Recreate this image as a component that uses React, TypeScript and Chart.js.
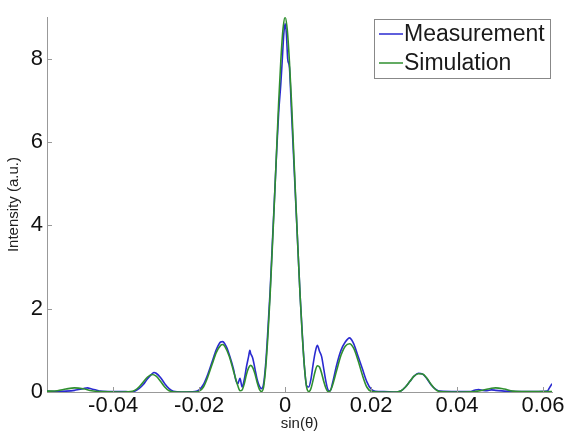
import React, { useEffect, useRef } from "react";
import { Chart, registerables } from "chart.js";
Chart.register(...registerables);

const seriesLabels = ["Measurement", "Simulation"];
const seriesColors = ["#2a2ad0", "#2f8f2f"];

const simX = [
  -0.0554, -0.053, -0.051, -0.049, -0.047, -0.045, -0.043, -0.039, -0.036, -0.035,
  -0.034, -0.033, -0.032, -0.031, -0.03, -0.029, -0.028, -0.027, -0.025, -0.021,
  -0.02, -0.019, -0.018, -0.017, -0.016, -0.015, -0.0145, -0.014, -0.013, -0.012,
  -0.011, -0.0105, -0.01, -0.0095, -0.009, -0.0085, -0.008, -0.0075, -0.007, -0.0065,
  -0.006, -0.0055, -0.005, -0.0045, -0.004, -0.0035, -0.003, -0.0025, -0.002, -0.0015,
  -0.001, -0.0005, 0, 0.0005, 0.001, 0.0015, 0.002, 0.0025, 0.003, 0.0035,
  0.004, 0.0045, 0.005, 0.0055, 0.006, 0.0065, 0.007, 0.0075, 0.008, 0.0085,
  0.009, 0.0095, 0.01, 0.0105, 0.011, 0.012, 0.013, 0.014, 0.015, 0.016,
  0.017, 0.018, 0.019, 0.02, 0.022, 0.026, 0.027, 0.028, 0.029, 0.03,
  0.031, 0.032, 0.033, 0.034, 0.035, 0.036, 0.04, 0.044, 0.046, 0.048,
  0.049, 0.051, 0.053, 0.056, 0.0621,
];
const simY = [
  0.02, 0.03, 0.07, 0.1, 0.08, 0.03, 0.01, 0.0, 0.01, 0.04,
  0.12, 0.24, 0.36, 0.42, 0.38, 0.26, 0.12, 0.03, 0.0, 0.0,
  0.02, 0.12, 0.36, 0.66, 0.95, 1.12, 1.14, 1.09, 0.86, 0.5,
  0.15, 0.03, 0.05, 0.2, 0.42, 0.58, 0.64, 0.58, 0.43, 0.23,
  0.07, 0.01, 0.12, 0.6, 1.35, 2.3, 3.4, 4.55, 5.75, 6.95,
  7.95, 8.7, 9.0, 8.7, 7.95, 6.95, 5.75, 4.55, 3.4, 2.3,
  1.35, 0.6, 0.12, 0.01, 0.08, 0.28, 0.5, 0.63, 0.6, 0.45,
  0.25, 0.09, 0.01, 0.03, 0.15, 0.52, 0.88, 1.1, 1.16, 1.04,
  0.75, 0.4, 0.12, 0.02, 0.0, 0.0, 0.03, 0.12, 0.25, 0.38,
  0.44, 0.43, 0.33, 0.18, 0.06, 0.01, 0.0, 0.01, 0.04, 0.09,
  0.1, 0.07, 0.02, 0.01, 0.01,
];

const measX = [
  -0.0554, -0.053, -0.051, -0.049, -0.048, -0.047, -0.046, -0.045, -0.044, -0.043,
  -0.04, -0.037, -0.036, -0.035, -0.034, -0.033, -0.032, -0.031, -0.0305, -0.03,
  -0.029, -0.028, -0.027, -0.026, -0.024, -0.021, -0.02, -0.019, -0.018, -0.017,
  -0.016, -0.015, -0.0145, -0.014, -0.0135, -0.013, -0.012, -0.0115, -0.011, -0.0105,
  -0.01, -0.0095, -0.009, -0.0085, -0.0082, -0.008, -0.0078, -0.0075, -0.007, -0.0065,
  -0.006, -0.0055, -0.005, -0.0045, -0.004, -0.0035, -0.003, -0.0025, -0.002, -0.0015,
  -0.001, -0.0007, -0.0003, 0, 0.0003, 0.0006, 0.001, 0.0015, 0.002, 0.0025,
  0.003, 0.0035, 0.004, 0.0045, 0.005, 0.0055, 0.006, 0.0065, 0.007, 0.0075,
  0.008, 0.0085, 0.009, 0.0095, 0.01, 0.0105, 0.011, 0.012, 0.013, 0.014,
  0.015, 0.0155, 0.016, 0.017, 0.018, 0.019, 0.02, 0.021, 0.023, 0.026,
  0.027, 0.028, 0.029, 0.03, 0.031, 0.032, 0.033, 0.034, 0.035, 0.036,
  0.04, 0.043, 0.044, 0.045, 0.046, 0.047, 0.048, 0.049, 0.051, 0.054,
  0.058, 0.061, 0.0615, 0.0621,
];
const measY = [
  0.02, 0.01, 0.02, 0.04, 0.06, 0.08, 0.1, 0.07, 0.05, 0.02,
  0.01, 0.01, 0.0, 0.02, 0.08, 0.18, 0.32, 0.43, 0.47, 0.45,
  0.35, 0.2, 0.08, 0.02, 0.0, 0.01, 0.05, 0.18, 0.42, 0.72,
  1.02, 1.2, 1.21, 1.15, 1.05, 0.9, 0.55, 0.3, 0.2, 0.33,
  0.12, 0.3, 0.6, 0.85, 1.0, 0.92, 0.88, 0.8, 0.55, 0.3,
  0.15, 0.08, 0.2, 0.7, 1.5, 2.4, 3.5, 4.6, 5.7, 6.7,
  7.4, 7.9, 8.6, 8.85, 8.6, 8.0, 7.8, 6.7, 5.6, 4.5,
  3.4, 2.3, 1.4, 0.6, 0.15, 0.12, 0.3, 0.65, 0.95, 1.12,
  0.98, 0.85, 0.55, 0.25, 0.05, 0.03, 0.2, 0.65, 1.0, 1.2,
  1.3, 1.25, 1.15, 0.85, 0.55, 0.25, 0.07, 0.02, 0.01, 0.0,
  0.03, 0.12, 0.25, 0.38, 0.45, 0.43, 0.32, 0.17, 0.07, 0.02,
  0.01, 0.01, 0.04, 0.06, 0.04, 0.03, 0.05, 0.04, 0.02, 0.01,
  0.01, 0.02, 0.1, 0.2,
];

const xTicks = [-0.04, -0.02, 0, 0.02, 0.04, 0.06];
const yTicks = [0, 2, 4, 6, 8];
const xTitle = "sin(θ)";
const yTitle = "Intensity (a.u.)";

const FONT = "'Liberation Sans', Arial, sans-serif";

const overlayPlugin = {
  id: "overlay",
  afterDraw(chart: any) {
    const ctx = chart.ctx;
    const { left, bottom } = chart.chartArea;
    const xs = chart.scales.x;
    const ys = chart.scales.y;
    ctx.save();
    ctx.strokeStyle = "#999";
    ctx.lineWidth = 1;
    xTicks.forEach((v) => {
      const px = Math.round(xs.getPixelForValue(v)) + 0.5;
      ctx.beginPath();
      ctx.moveTo(px, bottom);
      ctx.lineTo(px, bottom - 5);
      ctx.stroke();
    });
    yTicks.forEach((v) => {
      const py = Math.round(ys.getPixelForValue(v)) + 0.5;
      ctx.beginPath();
      ctx.moveTo(left, py);
      ctx.lineTo(left + 5, py);
      ctx.stroke();
    });
    // legend
    const bx = 374, by = 19, bw = 176, bh = 59;
    ctx.fillStyle = "#fff";
    ctx.fillRect(bx, by, bw, bh);
    ctx.strokeStyle = "#888";
    ctx.strokeRect(bx + 0.5, by + 0.5, bw, bh);
    ctx.font = `23px ${FONT}`;
    ctx.textBaseline = "middle";
    ctx.textAlign = "left";
    const rows = [34, 63];
    seriesLabels.forEach((lab, i) => {
      ctx.strokeStyle = seriesColors[i];
      ctx.lineWidth = 1.5;
      ctx.beginPath();
      ctx.moveTo(379, rows[i]);
      ctx.lineTo(403, rows[i]);
      ctx.stroke();
      ctx.fillStyle = "#1a1a1a";
      ctx.fillText(lab, 404, rows[i] + 1);
    });
    ctx.restore();
  },
};

export default function App() {
  const ref = useRef<HTMLCanvasElement>(null);
  useEffect(() => {
    if (!ref.current) return;
    const chart = new Chart(ref.current, {
      type: "line",
      data: {
        datasets: [
          {
            label: seriesLabels[1],
            data: simX.map((x, i) => ({ x, y: simY[i] })),
            borderColor: seriesColors[1],
            borderWidth: 1.6,
            pointRadius: 0,
            cubicInterpolationMode: "monotone",
            fill: false,
          },
          {
            label: seriesLabels[0],
            data: measX.map((x, i) => ({ x, y: measY[i] })),
            borderColor: seriesColors[0],
            borderWidth: 1.6,
            pointRadius: 0,
            cubicInterpolationMode: "monotone",
            fill: false,
          },
        ],
      },
      options: {
        animation: false,
        responsive: false,
        maintainAspectRatio: false,
        layout: { padding: { left: 0, right: 17, top: 15, bottom: 0 } },
        plugins: { legend: { display: false }, tooltip: { enabled: false } },
        scales: {
          x: {
            type: "linear",
            min: -0.0554,
            max: 0.0621,
            afterBuildTicks: (s: any) => {
              s.ticks = xTicks.map((value) => ({ value }));
            },
            afterFit: (s: any) => {
              s.height = 40;
            },
            grid: { drawOnChartArea: false, drawTicks: false },
            border: { color: "#999", width: 1 },
            ticks: {
              padding: 3,
              color: "#111",
              font: { family: FONT, size: 22, lineHeight: 1 },
              callback: (v: any) => String(v),
            },
            title: {
              display: true,
              text: xTitle,
              color: "#222",
              font: { family: FONT, size: 15, lineHeight: 1.1 },
              padding: { top: 0, bottom: 0 },
            },
          },
          y: {
            type: "linear",
            min: 0,
            max: 9,
            afterBuildTicks: (s: any) => {
              s.ticks = yTicks.map((value) => ({ value }));
            },
            afterFit: (s: any) => {
              s.width = 47;
            },
            grid: { drawOnChartArea: false, drawTicks: false },
            border: { color: "#999", width: 1 },
            ticks: {
              padding: 4,
              color: "#111",
              font: { family: FONT, size: 22 },
              callback: (v: any) => String(v),
            },
            title: {
              display: true,
              text: yTitle,
              color: "#222",
              font: { family: FONT, size: 15 },
              padding: { top: 5, bottom: 0 },
            },
          },
        },
      },
      plugins: [overlayPlugin],
    });
    return () => chart.destroy();
  }, []);
  return (
    <div style={{ position: "fixed", left: 0, top: 0, width: 569, height: 432, background: "#fff" }}>
      <canvas ref={ref} width={569} height={432} style={{ width: 569, height: 432 }} />
    </div>
  );
}
